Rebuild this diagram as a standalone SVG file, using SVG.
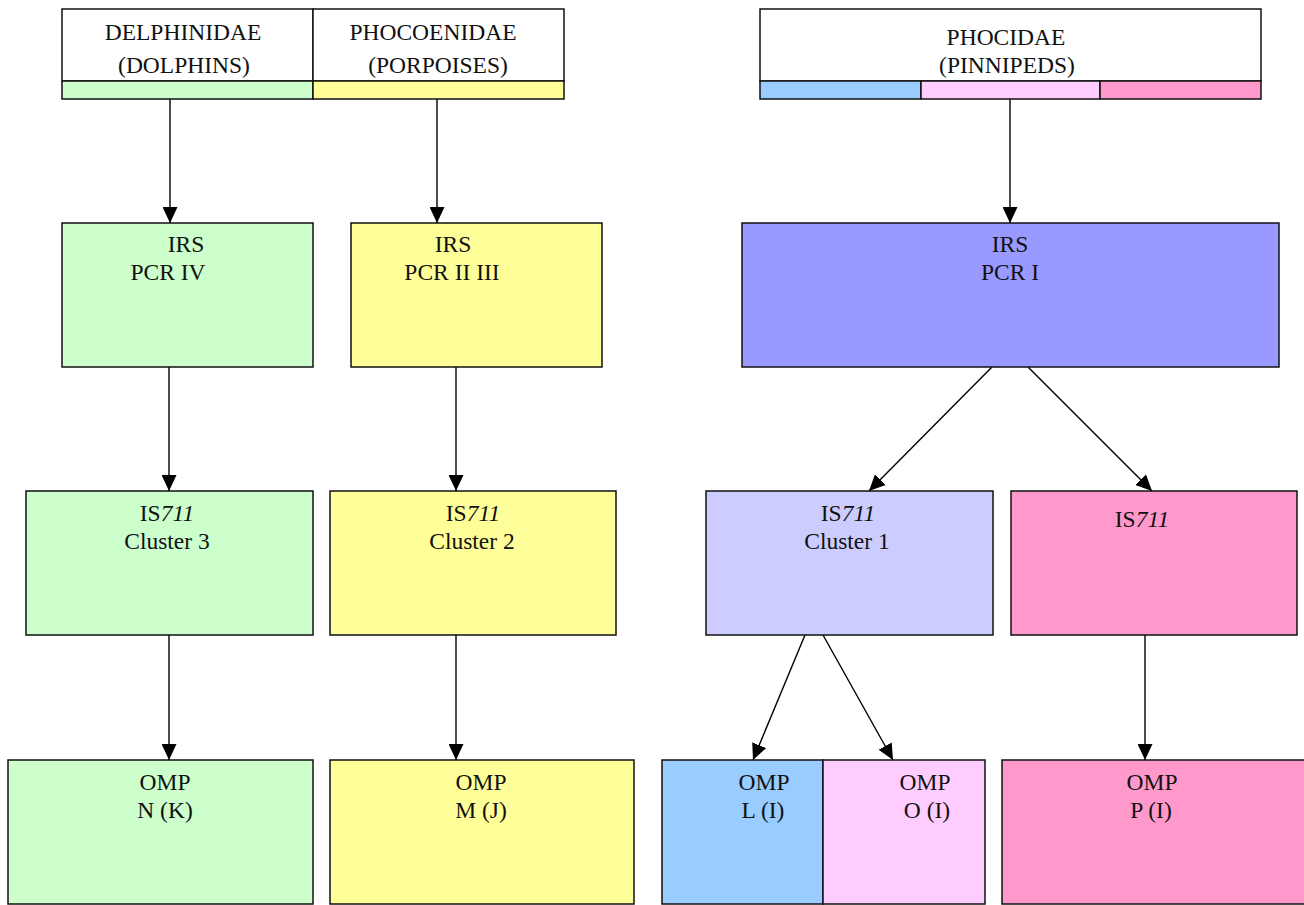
<svg xmlns="http://www.w3.org/2000/svg" width="1304" height="905" viewBox="0 0 1304 905">
<style>
.b{stroke:#111;stroke-width:1.5}
.t{font-family:"Liberation Serif","Times New Roman",serif;font-size:23.5px;fill:#111;text-anchor:middle}
.i{font-style:italic}
.c{stroke:#000;stroke-width:1.4;fill:none;marker-end:url(#ah)}
</style>
<defs>
<marker id="ah" markerUnits="userSpaceOnUse" markerWidth="16" markerHeight="15" viewBox="0 0 16 15" refX="16" refY="7.5" orient="auto">
<path d="M0,0 L16,7.5 L0,15 z" fill="#000"/>
</marker>
</defs>
<rect width="1304" height="905" fill="#fff"/>

<g id="connectors">
<line class="c" x1="170" y1="99" x2="170" y2="223"/>
<line class="c" x1="437" y1="99" x2="437" y2="223"/>
<line class="c" x1="1010" y1="99" x2="1010" y2="223"/>
<line class="c" x1="169" y1="367" x2="169" y2="491"/>
<line class="c" x1="456" y1="367" x2="456" y2="491"/>
<line class="c" x1="992" y1="367" x2="869" y2="491"/>
<line class="c" x1="1028" y1="367" x2="1152" y2="491"/>
<line class="c" x1="169" y1="635" x2="169" y2="760"/>
<line class="c" x1="456" y1="635" x2="456" y2="760"/>
<line class="c" x1="805" y1="635" x2="753" y2="760"/>
<line class="c" x1="823" y1="635" x2="893" y2="760"/>
<line class="c" x1="1145" y1="635" x2="1145" y2="760"/>
</g>

<g id="hdr-delphinidae">
<rect class="b" x="62" y="9" width="251" height="72" fill="#fff"/>
<rect class="b" x="62" y="81" width="251" height="18" fill="#ccffcc"/>
<text class="t" x="183" y="40">DELPHINIDAE</text>
<text class="t" x="184" y="73">(DOLPHINS)</text>
</g>
<g id="hdr-phocoenidae">
<rect class="b" x="313" y="9" width="251" height="72" fill="#fff"/>
<rect class="b" x="313" y="81" width="251" height="18" fill="#ffff99"/>
<text class="t" x="433" y="40">PHOCOENIDAE</text>
<text class="t" x="438" y="73">(PORPOISES)</text>
</g>
<g id="hdr-phocidae">
<rect class="b" x="760" y="9" width="501" height="72" fill="#fff"/>
<rect class="b" x="760" y="81" width="161" height="18" fill="#99ccff"/>
<rect class="b" x="921" y="81" width="179" height="18" fill="#ffccff"/>
<rect class="b" x="1100" y="81" width="161" height="18" fill="#ff99cc"/>
<text class="t" x="1006" y="45">PHOCIDAE</text>
<text class="t" x="1007" y="73">(PINNIPEDS)</text>
</g>

<g id="irs-iv">
<rect class="b" x="62" y="223" width="251" height="144" fill="#ccffcc"/>
<text class="t" x="186" y="252">IRS</text>
<text class="t" x="168" y="280">PCR IV</text>
</g>
<g id="irs-ii-iii">
<rect class="b" x="351" y="223" width="251" height="144" fill="#ffff99"/>
<text class="t" x="453" y="252">IRS</text>
<text class="t" x="452" y="280">PCR II III</text>
</g>
<g id="irs-i">
<rect class="b" x="742" y="223" width="537" height="144" fill="#9999ff"/>
<text class="t" x="1010" y="252">IRS</text>
<text class="t" x="1010" y="280">PCR I</text>
</g>

<g id="is711-c3">
<rect class="b" x="26" y="491" width="287" height="144" fill="#ccffcc"/>
<text class="t" x="167" y="521">IS<tspan class="i">711</tspan></text>
<text class="t" x="167" y="549">Cluster 3</text>
</g>
<g id="is711-c2">
<rect class="b" x="330" y="491" width="286" height="144" fill="#ffff99"/>
<text class="t" x="473" y="521">IS<tspan class="i">711</tspan></text>
<text class="t" x="472" y="549">Cluster 2</text>
</g>
<g id="is711-c1">
<rect class="b" x="706" y="491" width="287" height="144" fill="#ccccff"/>
<text class="t" x="848" y="521">IS<tspan class="i">711</tspan></text>
<text class="t" x="847" y="549">Cluster 1</text>
</g>
<g id="is711-p">
<rect class="b" x="1011" y="491" width="286" height="144" fill="#ff99cc"/>
<text class="t" x="1142" y="527">IS<tspan class="i">711</tspan></text>
</g>

<g id="omp-n">
<rect class="b" x="8" y="760" width="305" height="144" fill="#ccffcc"/>
<text class="t" x="165" y="790">OMP</text>
<text class="t" x="165" y="818">N (K)</text>
</g>
<g id="omp-m">
<rect class="b" x="330" y="760" width="304" height="144" fill="#ffff99"/>
<text class="t" x="481" y="790">OMP</text>
<text class="t" x="481" y="818">M (J)</text>
</g>
<g id="omp-l">
<rect class="b" x="662" y="760" width="161" height="144" fill="#99ccff"/>
<text class="t" x="764" y="790">OMP</text>
<text class="t" x="763" y="818">L (I)</text>
</g>
<g id="omp-o">
<rect class="b" x="823" y="760" width="162" height="144" fill="#ffccff"/>
<text class="t" x="925" y="790">OMP</text>
<text class="t" x="927" y="818">O (I)</text>
</g>
<g id="omp-p">
<rect class="b" x="1002" y="760" width="310" height="144" fill="#ff99cc"/>
<text class="t" x="1152" y="790">OMP</text>
<text class="t" x="1151" y="818">P (I)</text>
</g>
</svg>
